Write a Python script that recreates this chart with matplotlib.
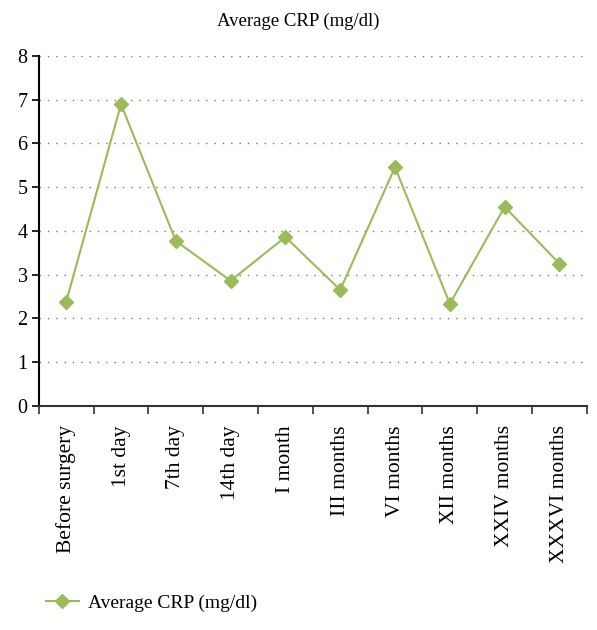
import matplotlib
matplotlib.use('Agg')
import matplotlib.pyplot as plt
import numpy as np

# data
categories = ['Before surgery', '1st day', '7th day', '14th day', 'I month',
              'III months', 'VI months', 'XII months', 'XXIV months', 'XXXVI months']
crp = [2.38, 6.9, 3.77, 2.86, 3.86, 2.65, 5.46, 2.33, 4.55, 3.25]

plt.rcParams['font.family'] = ['Liberation Serif', 'DejaVu Serif']
green = '#9BBB59'

fig = plt.figure(figsize=(5.97, 6.3), dpi=100)
ax = fig.add_axes([0.065, 0.356, 0.918, 0.555])

x = np.arange(len(categories))
ax.plot(x, crp, color=green, marker='D', markersize=7.5, linewidth=1.5,
        label='Average CRP (mg/dl)')

ax.set_xlim(-0.5, len(categories) - 0.5)
ax.set_ylim(0, 8)
ax.set_yticks(range(0, 9))
ax.tick_params(axis='y', labelsize=14.5, direction='out', length=5, width=1.2, pad=3)

# category ticks sit on the boundaries, labels in the middle
ax.set_xticks(np.arange(-0.5, len(categories), 1))
ax.set_xticklabels([])
ax.set_xticks(x, minor=True)
ax.set_xticklabels(categories, minor=True, rotation=90, fontsize=15.5)
ax.tick_params(axis='x', which='minor', length=0, pad=14)
ax.tick_params(axis='x', which='major', direction='out', length=6, width=1.2, color='#333333')

ax.yaxis.grid(True, linestyle=(0, (1, 5)), color='#777777', linewidth=1)
ax.set_axisbelow(True)
for s in ['top', 'right']:
    ax.spines[s].set_visible(False)
ax.spines['left'].set_linewidth(1.5)
ax.spines['bottom'].set_linewidth(1.5)
ax.spines['bottom'].set_color('#333333')

fig.text(0.5, 0.966, 'Average CRP (mg/dl)', ha='center', va='center', fontsize=13.5)
fig.legend(loc='center left', bbox_to_anchor=(0.047, 0.043), frameon=False,
           fontsize=14, handlelength=1.7, handletextpad=0.5)

fig.savefig('out.png', dpi=100)
